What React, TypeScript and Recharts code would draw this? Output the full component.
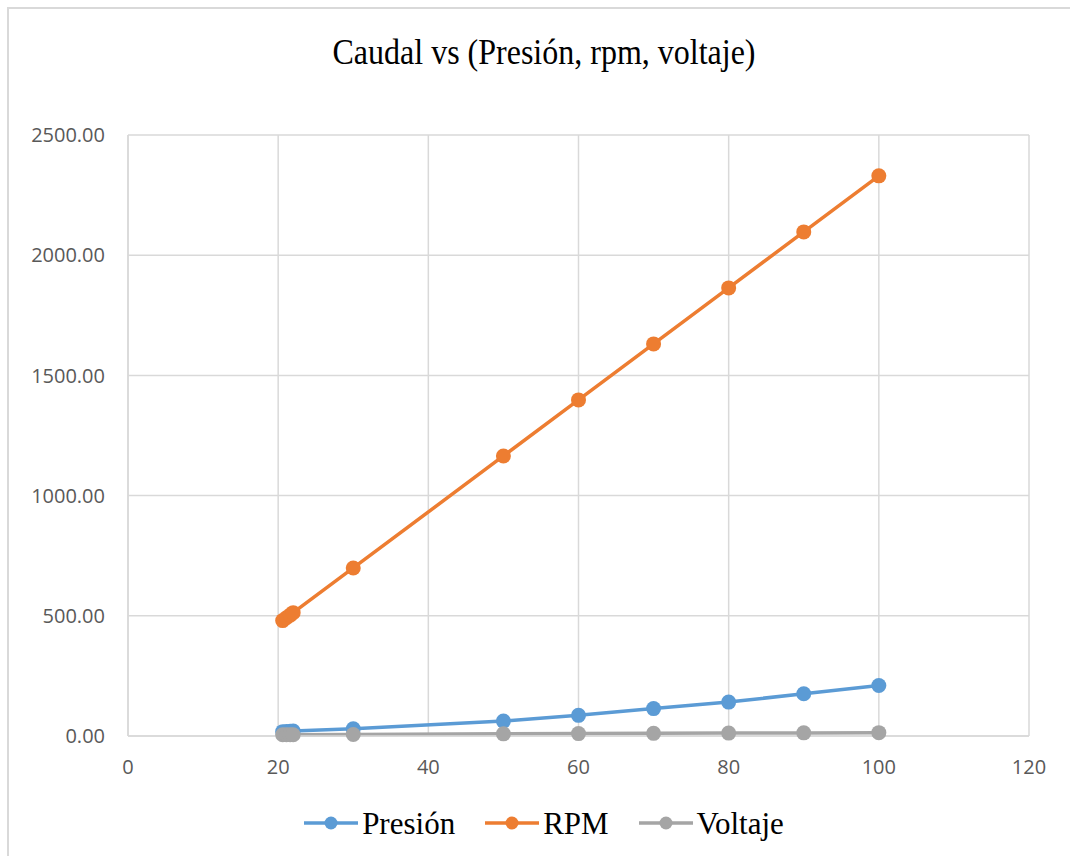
import React from 'react';
import { LineChart, Line, XAxis, YAxis, CartesianGrid, Legend } from 'recharts';

const caudal = [20.6, 21.1, 21.6, 22.0, 30, 50, 60, 70, 80, 90, 100];
const presion = [18, 19, 20, 21, 30, 62, 86, 114, 141, 176, 210];
const rpm = [480, 492, 503, 513, 699, 1165, 1398, 1631, 1864, 2097, 2330];
const voltaje = [5, 5, 5, 5, 6, 9, 10, 11, 12, 13, 14];
const xTicks = [0, 20, 40, 60, 80, 100, 120];
const yTicks = [0, 500, 1000, 1500, 2000, 2500];
const title = 'Caudal vs (Presión, rpm, voltaje)';
const seriesNames = ['Presión', 'RPM', 'Voltaje'];
const seriesColors = ['#5B9BD5', '#ED7D31', '#A5A5A5'];

const data = caudal.map((c, i) => ({ caudal: c, presion: presion[i], rpm: rpm[i], voltaje: voltaje[i] }));
const keys = ['presion', 'rpm', 'voltaje'];

const W = 1070;
const H = 848;
const serif = '"Liberation Serif", "Times New Roman", serif';
const sans = '"Open Sans", sans-serif';

const LegendContent = () => (
  <div style={{ display: 'flex', justifyContent: 'center', alignItems: 'center', width: '100%' }}>
    {seriesNames.map((n, i) => (
      <div key={n} style={{ display: 'flex', alignItems: 'center', marginRight: i < 2 ? 30 : 0 }}>
        <svg width={54} height={20} style={{ display: 'block' }}>
          <line x1={0} y1={10} x2={54} y2={10} stroke={seriesColors[i]} strokeWidth={3.5} />
          <circle cx={27} cy={10} r={6.5} fill={seriesColors[i]} />
        </svg>
        <span style={{ fontFamily: serif, fontSize: 31, color: '#000', marginLeft: 4, lineHeight: '34px', display: 'inline-block', transform: 'scaleY(1.05)' }}>{n}</span>
      </div>
    ))}
  </div>
);

export default function App() {
  return (
    <div style={{ position: 'fixed', left: 0, top: 0, width: 1070, height: 856, overflow: 'hidden', background: '#fff' }}>
      <div style={{ position: 'absolute', left: 7, top: 7, width: W + 30, height: H + 30, border: '2px solid #d9d9d9', boxSizing: 'content-box' }}>
        <div style={{ position: 'absolute', left: 0, top: 23, width: W, textAlign: 'center', fontFamily: serif, fontSize: 32, color: '#000', lineHeight: '40px', zIndex: 2, transform: 'scaleY(1.1)' }}>
          {title}
        </div>
        <LineChart width={W} height={H} data={data} margin={{ top: 126, right: 50, bottom: 0, left: 0 }}>
          <CartesianGrid stroke="#d9d9d9" strokeWidth={1.5} horizontal vertical />
          <XAxis
            type="number"
            dataKey="caudal"
            domain={[0, 120]}
            ticks={xTicks}
            height={121}
            tickSize={0}
            tickMargin={24}
            axisLine={{ stroke: '#d9d9d9', strokeWidth: 1.5 }}
            tickLine={false}
            tick={{ fill: '#595959', fontSize: 20, fontFamily: sans }}
          />
          <YAxis
            type="number"
            domain={[0, 2500]}
            ticks={yTicks}
            width={119}
            tickSize={0}
            tickMargin={23}
            axisLine={{ stroke: '#d9d9d9', strokeWidth: 1.5 }}
            tickLine={false}
            tickFormatter={(v: number) => v.toFixed(2)}
            tick={{ fill: '#595959', fontSize: 20, fontFamily: sans }}
          />
          {keys.map((k, i) => (
            <Line
              key={k}
              type="linear"
              dataKey={k}
              name={seriesNames[i]}
              stroke={seriesColors[i]}
              strokeWidth={3.5}
              dot={{ r: 7.5, fill: seriesColors[i], stroke: seriesColors[i], strokeWidth: 0 }}
              activeDot={false}
              isAnimationActive={false}
            />
          ))}
          <Legend
            layout="horizontal"
            verticalAlign="middle"
            align="center"
            content={<LegendContent />}
            wrapperStyle={{ position: 'absolute', left: 0, top: 797, width: W }}
          />
        </LineChart>
      </div>
    </div>
  );
}
